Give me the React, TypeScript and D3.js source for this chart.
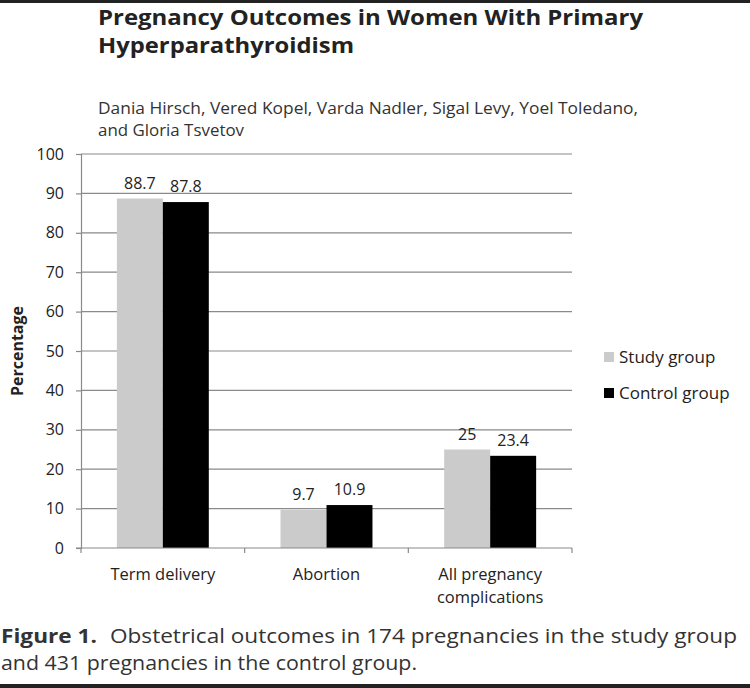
import { useEffect, useRef } from 'react';
import * as d3 from 'd3';

const CATEGORIES = ['Term delivery', 'Abortion', 'All pregnancy complications'];
const CATEGORY_LINES: string[][] = [['Term delivery'], ['Abortion'], ['All pregnancy', 'complications']];
const SERIES = ['Study group', 'Control group'];
const STUDY_VALUES = [88.7, 9.7, 25];
const CONTROL_VALUES = [87.8, 10.9, 23.4];
const Y_TICKS = [0, 10, 20, 30, 40, 50, 60, 70, 80, 90, 100];

const COLORS: Record<string, string> = {
  'Study group': '#cbcbcb',
  'Control group': '#000000',
};

const WIDTH = 750;
const HEIGHT = 688;
const PLOT = { left: 81, right: 572, top: 154, bottom: 548 };
const CHART_FONT = '"Open Sans", sans-serif';

export default function App() {
  const svgRef = useRef<SVGSVGElement>(null);

  useEffect(() => {
    const svg = d3.select(svgRef.current!);
    svg.selectAll('*').remove();

    svg.append('rect').attr('width', WIDTH).attr('height', HEIGHT).attr('fill', '#fff');
    // dark strips at the very top and bottom of the screenshot
    svg.append('rect').attr('width', WIDTH).attr('height', 3).attr('fill', '#222');
    svg.append('rect').attr('y', 684).attr('width', WIDTH).attr('height', 4).attr('fill', '#222');

    // heading
    const head = svg.append('g').attr('font-family', '"Open Sans", sans-serif').attr('fill', '#222');
    head.append('text').attr('x', 98).attr('y', 25).attr('font-size', 22).attr('font-weight', 700)
      .attr('textLength', 545).attr('lengthAdjust', 'spacingAndGlyphs')
      .text('Pregnancy Outcomes in Women With Primary');
    head.append('text').attr('x', 98).attr('y', 53).attr('font-size', 22).attr('font-weight', 700)
      .attr('textLength', 256).attr('lengthAdjust', 'spacingAndGlyphs')
      .text('Hyperparathyroidism');
    head.append('text').attr('x', 98).attr('y', 114).attr('font-size', 17).attr('fill', '#333')
      .attr('textLength', 540).attr('lengthAdjust', 'spacingAndGlyphs')
      .text('Dania Hirsch, Vered Kopel, Varda Nadler, Sigal Levy, Yoel Toledano,');
    head.append('text').attr('x', 98).attr('y', 136).attr('font-size', 17).attr('fill', '#333')
      .attr('textLength', 146).attr('lengthAdjust', 'spacingAndGlyphs')
      .text('and Gloria Tsvetov');

    const y = d3.scaleLinear().domain([0, 100]).range([PLOT.bottom, PLOT.top]);
    const x0 = d3.scaleBand<string>().domain(CATEGORIES).range([PLOT.left, PLOT.right]).padding(0);
    const x1 = d3.scaleBand<string>().domain(SERIES).range([0, x0.bandwidth()])
      .paddingInner(0).paddingOuter(0.78);

    const g = svg.append('g').attr('font-family', CHART_FONT);

    // gridlines
    g.selectAll('line.grid').data(Y_TICKS.filter((t) => t > 0)).join('line')
      .attr('x1', PLOT.left).attr('x2', PLOT.right)
      .attr('y1', (d) => y(d)).attr('y2', (d) => y(d))
      .attr('stroke', '#8a8a8a').attr('stroke-width', 1.2);

    // y axis
    const yAxis = g.append('g').attr('transform', `translate(${PLOT.left},0)`)
      .call(d3.axisLeft(y).tickValues(Y_TICKS).tickSize(5).tickPadding(12));
    yAxis.select('.domain').attr('stroke', '#8a8a8a').attr('stroke-width', 1.2);
    yAxis.selectAll('.tick line').attr('stroke', '#8a8a8a').attr('stroke-width', 1.2);
    yAxis.selectAll('.tick text').attr('fill', '#222').attr('font-size', 16).attr('font-family', CHART_FONT);

    // bars
    const rows = CATEGORIES.map((c, i) => ({ c, values: [STUDY_VALUES[i], CONTROL_VALUES[i]] }));
    const groups = g.selectAll('g.cat').data(rows).join('g')
      .attr('transform', (d) => `translate(${x0(d.c)},0)`);
    groups.selectAll('rect').data((d) => SERIES.map((s, j) => ({ s, v: d.values[j] }))).join('rect')
      .attr('x', (d) => x1(d.s)!).attr('width', x1.bandwidth())
      .attr('y', (d) => y(d.v)).attr('height', (d) => y(0) - y(d.v))
      .attr('fill', (d) => COLORS[d.s]);
    groups.selectAll('text').data((d) => SERIES.map((s, j) => ({ s, v: d.values[j] }))).join('text')
      .attr('x', (d) => x1(d.s)! + x1.bandwidth() / 2)
      .attr('y', (d) => y(d.v) - 10)
      .attr('text-anchor', 'middle').attr('font-size', 16).attr('fill', '#222')
      .text((d) => String(d.v));

    // x axis
    g.append('line').attr('x1', PLOT.left - 5).attr('x2', PLOT.right)
      .attr('y1', PLOT.bottom).attr('y2', PLOT.bottom)
      .attr('stroke', '#8a8a8a').attr('stroke-width', 1.2);
    const bounds = [...CATEGORIES.map((c) => x0(c)!), PLOT.right];
    g.selectAll('line.xtick').data(bounds).join('line')
      .attr('x1', (d) => d).attr('x2', (d) => d)
      .attr('y1', PLOT.bottom).attr('y2', PLOT.bottom + 5)
      .attr('stroke', '#8a8a8a').attr('stroke-width', 1.2);
    CATEGORIES.forEach((c, i) => {
      CATEGORY_LINES[i].forEach((line, k) => {
        g.append('text').attr('x', x0(c)! + x0.bandwidth() / 2).attr('y', 580 + k * 23)
          .attr('text-anchor', 'middle').attr('font-size', 16.5).attr('fill', '#222').text(line);
      });
    });

    // y label
    g.append('text').attr('transform', `translate(23,${(PLOT.top + PLOT.bottom) / 2}) rotate(-90)`)
      .attr('text-anchor', 'middle').attr('font-size', 16).attr('font-weight', 700).attr('fill', '#222')
      .text('Percentage');

    // legend
    SERIES.forEach((s, i) => {
      const ly = 357 + i * 36;
      g.append('rect').attr('x', 604).attr('y', ly - 5).attr('width', 10).attr('height', 10)
        .attr('fill', COLORS[s]);
      g.append('text').attr('x', 619).attr('y', ly + 6).attr('font-size', 17).attr('fill', '#222').text(s);
    });

    // caption
    const cap = svg.append('g').attr('font-family', '"Open Sans", sans-serif').attr('fill', '#333').attr('font-size', 20);
    cap.append('text').attr('x', 1).attr('y', 643).attr('font-weight', 700)
      .attr('textLength', 96).attr('lengthAdjust', 'spacingAndGlyphs')
      .text('Figure 1.');
    cap.append('text').attr('x', 110).attr('y', 643)
      .attr('textLength', 627).attr('lengthAdjust', 'spacingAndGlyphs')
      .text('Obstetrical outcomes in 174 pregnancies in the study group');
    cap.append('text').attr('x', 1).attr('y', 670)
      .attr('textLength', 416).attr('lengthAdjust', 'spacingAndGlyphs')
      .text('and 431 pregnancies in the control group.');
  }, []);

  return <svg ref={svgRef} width={WIDTH} height={HEIGHT} style={{ display: 'block', position: 'absolute', left: 0, top: 0 }} />;
}
